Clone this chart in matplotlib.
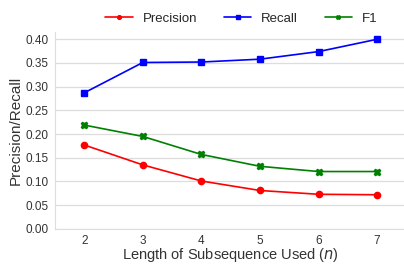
import matplotlib
matplotlib.use("Agg")
import matplotlib.pyplot as plt
import seaborn as sns

n_values = [2, 3, 4, 5, 6, 7]
precision = [0.177, 0.135, 0.101, 0.081, 0.073, 0.072]
recall = [0.287, 0.351, 0.352, 0.358, 0.374, 0.400]
f1 = [0.219, 0.195, 0.157, 0.132, 0.121, 0.121]

sns.set_style("whitegrid")
plt.rcParams["font.family"] = ["Liberation Sans", "DejaVu Sans"]

fig = plt.figure(figsize=(4.04, 2.64), dpi=100)
ax = fig.add_axes([0.136, 0.133, 0.87, 0.747])

ax.plot(n_values, precision, color="red", marker="o", markersize=4.5, linewidth=1.2, label="Precision")
ax.plot(n_values, recall, color="blue", marker="s", markersize=4.5, linewidth=1.2, label="Recall")
ax.plot(n_values, f1, color="green", marker="X", markersize=4.5, linewidth=1.2, label="F1")

ax.set_xlim(1.5, 7.5)
ax.set_ylim(0, 0.416)
ax.set_yticks([0.0, 0.05, 0.10, 0.15, 0.20, 0.25, 0.30, 0.35, 0.40])
ax.set_yticklabels([f"{v:.2f}" for v in ax.get_yticks()])
ax.tick_params(labelsize=8.5, colors="#333333", pad=1)
ax.xaxis.grid(False)
ax.yaxis.grid(True, color="#dddddd", linewidth=0.9)
for side in ["top", "right"]:
    ax.spines[side].set_visible(False)
for side in ["left", "bottom"]:
    ax.spines[side].set_color("#dddddd")

ax.set_xlabel("Length of Subsequence Used ($n$)", fontsize=10.5, color="#333333", labelpad=-0.5)
ax.set_ylabel("Precision/Recall", fontsize=11, color="#333333", labelpad=2)

ax.legend(loc="center left", bbox_to_anchor=(0.128, 1.066), ncol=3, frameon=False,
          fontsize=9.5, handlelength=2.1, handletextpad=0.75, columnspacing=2.0,
          markerscale=0.6, borderaxespad=0)

fig.savefig("out.png", dpi=100)
